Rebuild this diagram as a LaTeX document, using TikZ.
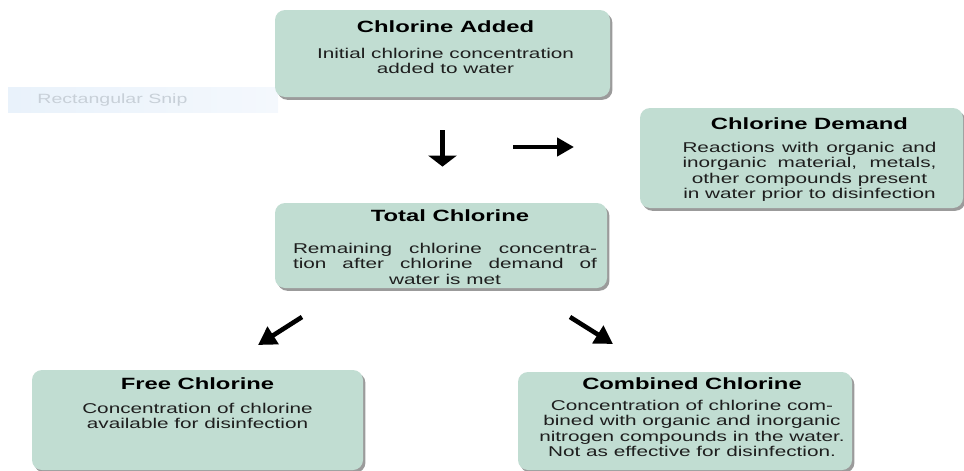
\documentclass[tikz,border=0pt]{standalone}
\usepackage{fontspec}
\setmainfont{Liberation Sans}[FakeStretch=1.46]
\usetikzlibrary{positioning, arrows.meta, calc, fit, shadows}
\definecolor{boxgreen}{RGB}{193,221,210}
\definecolor{bodygray}{RGB}{30,30,30}
\definecolor{snipleft}{RGB}{233,242,251}
\definecolor{snipright}{RGB}{244,248,253}
\definecolor{snipgray}{RGB}{200,208,216}

\begin{document}
\begin{tikzpicture}[
	x=0.5pt, y=-0.5pt,
	% --- Styles ---
	chlbox/.style={
		rectangle, rounded corners=5pt, fill=boxgreen, inner sep=0pt,
		drop shadow={shadow xshift=1.2pt, shadow yshift=-1.4pt, fill=black!60, opacity=0.65}
	},
	boxtitle/.style={
		font=\bfseries\fontsize{8.15pt}{9pt}\selectfont, inner sep=0pt, anchor=base
	},
	boxbody/.style={
		font=\fontsize{7.1pt}{7.75pt}\selectfont, text=bodygray, align=center, inner sep=0pt, anchor=north
	},
	flow/.style={
		draw, line width=2.3pt, -{Triangle[length=9pt, width=10pt]}
	},
	snipbar/.style={
		rectangle, left color=snipleft, right color=snipright, inner sep=0pt
	}
	]
	\useasboundingbox (0,0) rectangle (964,471);
	
	% --- Leftover snip bar ---
	\node [snipbar, fit={(8,87) (278,112)}] (snip) {};
	\node [font=\fontsize{6.7pt}{7pt}\selectfont, text=snipgray, anchor=west, inner sep=0pt] (snip text) at (37,100) {Rectangular Snip};
	
	% --- Boxes ---
	\node [chlbox, fit={(275,10) (610,97)}] (added) {};
	\node [chlbox, fit={(640,108) (963,208)}] (demand) {};
	\node [chlbox, fit={(275,203) (607,288)}] (total) {};
	\node [chlbox, fit={(32,370) (363,470)}] (free) {};
	\node [chlbox, fit={(518,372) (852,470)}] (combined) {};
	
	% --- Texts ---
	\node [boxtitle] (added title) at ($(added.north)+(3,23)$) {Chlorine Added};
	\node [boxbody] (added text) at ($(added.north)+(3,38)$) {Initial chlorine concentration\\added to water};
	
	\node [boxtitle] (demand title) at ($(demand.north)+(8,22)$) {Chlorine Demand};
	\node [boxbody] (demand text) at ($(demand.north)+(8,34)$) {%
		\makebox[127pt][s]{Reactions with organic and}\\
		\makebox[127pt][s]{inorganic material, metals,}\\
		other compounds present\\
		in water prior to disinfection};
	
	\node [boxtitle] (total title) at ($(total.north)+(9,19)$) {Total Chlorine};
	\node [boxbody] (total text) at ($(total.north)+(4,40)$) {%
		\makebox[152pt][s]{Remaining chlorine concentra-}\\
		\makebox[152pt][s]{tion after chlorine demand of}\\
		water is met};
	
	\node [boxtitle] (free title) at ($(free.north)+(0,20)$) {Free Chlorine};
	\node [boxbody] (free text) at ($(free.north)+(0,33)$) {Concentration of chlorine\\available for disinfection};
	
	\node [boxtitle] (combined title) at ($(combined.north)+(7,18)$) {Combined Chlorine};
	\node [boxbody] (combined text) at ($(combined.north)+(7,28)$) {Concentration of chlorine com-\\bined with organic and inorganic\\nitrogen compounds in the water.\\Not as effective for disinfection.};
	
	% --- Arrows ---
	\draw [flow, -{Triangle[length=5.5pt, width=14pt]}, shorten <=16.5pt, shorten >=18pt] (added.south) -- (added.south |- total.north);
	
	\coordinate (demand arrow start) at (513,147);
	\coordinate (demand arrow end) at (574,147);
	\draw [flow, -{Triangle[length=8.5pt, width=9pt]}] (demand arrow start) -- (demand arrow end);
	
	\coordinate (free arrow start) at (302,317);
	\coordinate (free arrow end) at (258,345);
	\draw [flow] (free arrow start) -- (free arrow end);
	
	\coordinate (combined arrow start) at (570,317);
	\coordinate (combined arrow end) at (613,344);
	\draw [flow] (combined arrow start) -- (combined arrow end);
	
\end{tikzpicture}
\end{document}
